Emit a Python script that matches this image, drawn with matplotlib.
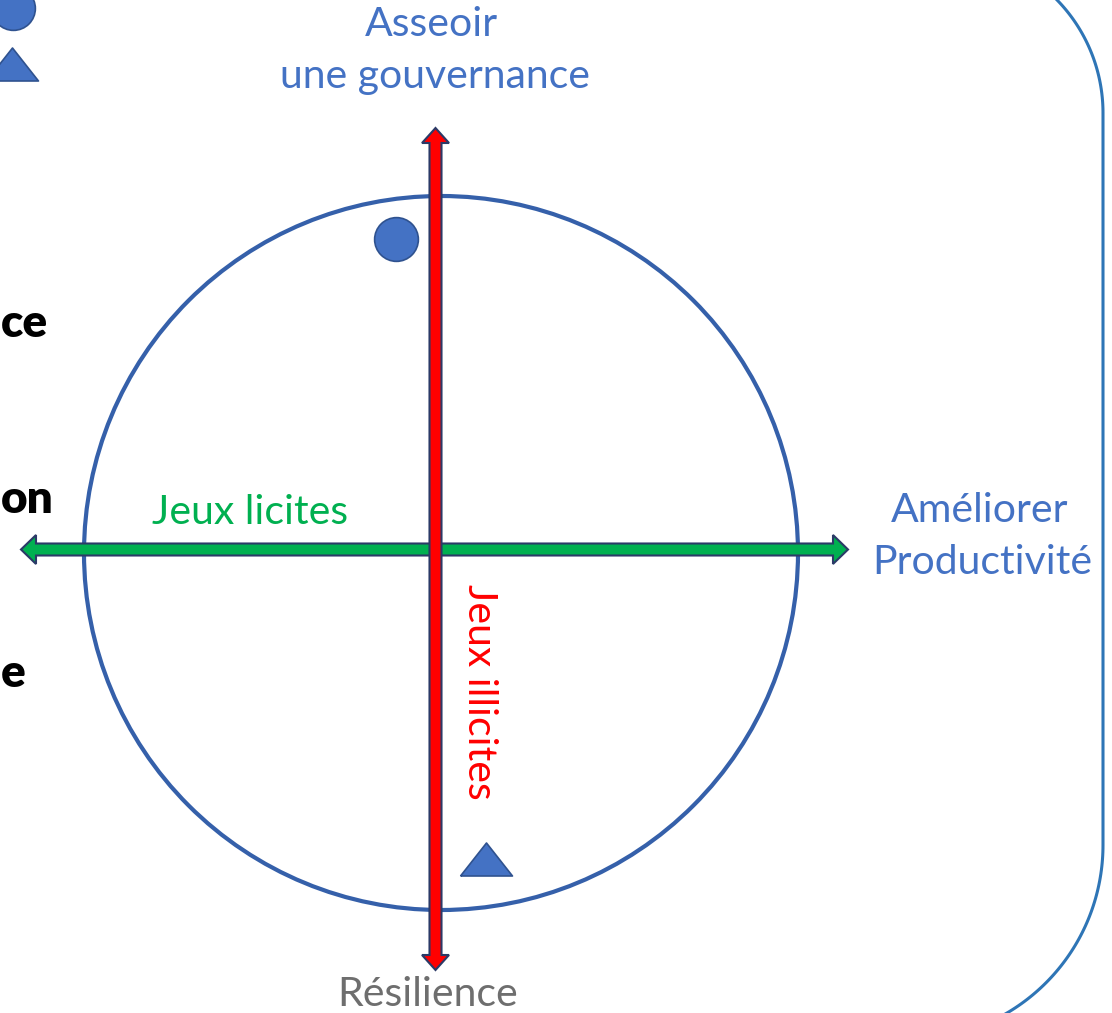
import matplotlib
matplotlib.use("Agg")
import matplotlib.pyplot as plt
import numpy as np
from matplotlib.patches import Circle, Polygon

# ---------------------------------------------------------------------------
# Data (positions on the unit circle: x = productivité, y = gouvernance)
# ---------------------------------------------------------------------------
marker_names = ["rond", "triangle"]
marker_x = [-0.126, 0.126]
marker_y = [0.880, -0.856]

axis_top = ["Asseoir", "une gouvernance"]
axis_right = ["Améliorer", "Productivité"]
axis_bottom = "Résilience"
label_green = "Jeux licites"
label_red = "Jeux illicites"
side_words = ["ce", "on", "e"]   # only the visible ends of the left-hand words

# ---------------------------------------------------------------------------
# Layout (pixels of the 1112x1013 canvas)
# ---------------------------------------------------------------------------
W, H = 1112, 1013
CX, CY, R = 441, 553, 357

BLUE = "#4472C4"
EDGE = "#2F528F"
RING = "#3560AA"
GREEN = "#00B050"
RED = "#FF0000"
OUTLINE = "#2B3A67"
FONT = ["Lato", "DejaVu Sans"]


def px(x, y):
    """pixel -> data (circle centred at 0, radius 1)."""
    return (x - CX) / R, (CY - y) / R


def double_arrow(ax, p0, p1, width, head_w, head_len, color, z):
    p0, p1 = np.asarray(p0, float), np.asarray(p1, float)
    d = p1 - p0
    u = d / np.hypot(*d)
    n = np.array([-u[1], u[0]])
    w, hw = width / 2, head_w / 2
    a = p0 + u * head_len
    b = p1 - u * head_len
    pts = [p0, a + n * hw, a + n * w, b + n * w, b + n * hw, p1,
           b - n * hw, b - n * w, a - n * w, a - n * hw]
    ax.add_patch(Polygon(pts, closed=True, facecolor=color, edgecolor=OUTLINE,
                         linewidth=1.5, joinstyle="miter", zorder=z))


fig = plt.figure(figsize=(W / 100, H / 100), dpi=100)
ax = fig.add_axes([0, 0, 1, 1])
x0, y0 = px(0, H)
x1, y1 = px(W, 0)
ax.set_xlim(x0, x1)
ax.set_ylim(y0, y1)
ax.set_aspect("equal")
ax.axis("off")

# big circle
ax.add_patch(Circle((0, 0), 1.0, fill=False, edgecolor=RING, linewidth=3.0, zorder=2))

# green horizontal arrow, red vertical arrow
s = 1 / R
double_arrow(ax, px(21, 549.5), px(848, 549.5), 12 * s, 29 * s, 15 * s, GREEN, 3)
double_arrow(ax, px(435.5, 970), px(435.5, 128), 12 * s, 27 * s, 15 * s, RED, 4)

# markers
tri = [(-1, -0.635), (1, -0.635), (0, 0.635), (-1, -0.635)]
ax.plot(marker_x[0], marker_y[0], marker="o", markersize=31.5, color=BLUE,
        markeredgecolor=EDGE, markeredgewidth=1.2, zorder=5)
ax.plot(marker_x[1], marker_y[1], marker=tri, markersize=37.4, color=BLUE,
        markeredgecolor=EDGE, markeredgewidth=1.2, zorder=5)

# legend symbols, cut at the top-left corner
ax.plot(*px(13, 8), marker="o", markersize=31.5, color=BLUE,
        markeredgecolor=EDGE, markeredgewidth=1.2, zorder=5)
ax.plot(*px(12, 63.5), marker=tri, markersize=37.4, color=BLUE,
        markeredgecolor=EDGE, markeredgewidth=1.2, zorder=5)

# rounded frame on the right
t = np.linspace(-0.80, 0, 60)
top = np.c_[941 + 162 * np.cos(t), 113 + 162 * np.sin(t)]
t = np.linspace(0, 1.10, 60)
bot = np.c_[908 + 195 * np.cos(t), 845 + 195 * np.sin(t)]
frame = np.vstack([top, bot])
fx, fy = px(frame[:, 0], frame[:, 1])
ax.plot(fx, fy, color="#2E75B6", linewidth=2.2, zorder=2)

# axis labels
fs = 29.5
kw = dict(fontsize=fs, family=FONT, ha="center", va="center")
ax.text(*px(431, 24), axis_top[0], color=BLUE, **kw)
ax.text(*px(435, 76), axis_top[1], color=BLUE, **kw)
ax.text(*px(980, 510), axis_right[0], color=BLUE, **kw)
ax.text(*px(982, 562), axis_right[1], color=BLUE, **kw)
ax.text(*px(428, 995), axis_bottom, color="#6E6E6E", **kw)
ax.text(*px(250, 512), label_green, color=GREEN, **kw)
ax.text(*px(479, 692), label_red, color=RED, rotation=-90, **kw)

# bold word ends at the left edge, kept inside the canvas
for word, wy in zip(side_words, [337, 513, 687]):
    ax.text(*px(1, wy), word, color="black", fontsize=33, fontweight="heavy",
            family=["Lato", "DejaVu Sans"], ha="left", va="baseline")

fig.savefig("out.png", dpi=100)
